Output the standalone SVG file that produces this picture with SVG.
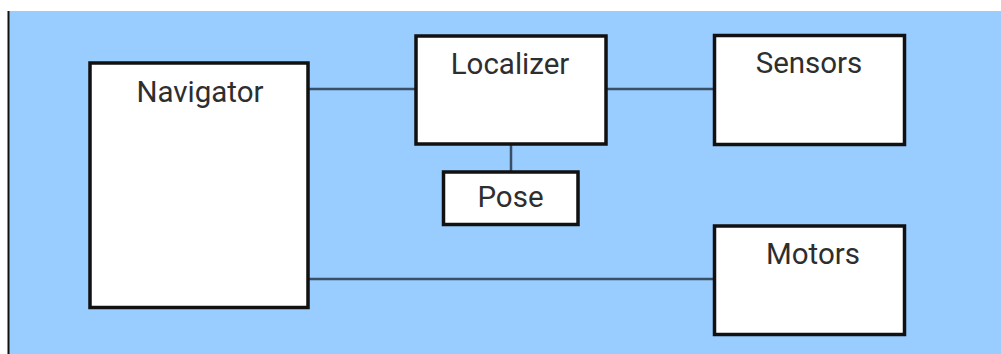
<svg xmlns="http://www.w3.org/2000/svg" width="1001" height="354" viewBox="0 0 1001 354">
<style>
.box{fill:#ffffff;stroke:#111111;stroke-width:3.5}
.lbl{font-family:Roboto,"Liberation Sans",Arial,sans-serif;font-size:29.5px;fill:#2e2e2e;text-anchor:middle}
.con{stroke:#3a4f66;stroke-width:2.5;fill:none}
</style>
<rect x="0" y="0" width="1001" height="354" fill="#ffffff"/>
<rect x="9" y="11" width="992" height="343" fill="#99ccff"/>
<line x1="8.5" y1="11" x2="8.5" y2="354" stroke="#111111" stroke-width="2"/>
<g id="connectors">
<line class="con" x1="308" y1="89" x2="416" y2="89"/>
<line class="con" x1="606" y1="89" x2="715" y2="89"/>
<line class="con" x1="511" y1="144" x2="511" y2="172"/>
<line class="con" x1="308" y1="279" x2="715" y2="279"/>
</g>
<g id="navigator">
<rect class="box" x="90" y="63" width="218" height="244.5"/>
<text class="lbl" x="200" y="101.5">Navigator</text>
</g>
<g id="localizer">
<rect class="box" x="416" y="36" width="190" height="108"/>
<text class="lbl" x="510" y="74.3">Localizer</text>
</g>
<g id="pose">
<rect class="box" x="443.5" y="172" width="134.5" height="52.5"/>
<text class="lbl" x="510.5" y="207.3">Pose</text>
</g>
<g id="sensors">
<rect class="box" x="714.5" y="35.5" width="190" height="109"/>
<text class="lbl" x="809" y="73.3">Sensors</text>
</g>
<g id="motors">
<rect class="box" x="714.5" y="226" width="190" height="108.5"/>
<text class="lbl" x="813" y="264.3">Motors</text>
</g>
</svg>
